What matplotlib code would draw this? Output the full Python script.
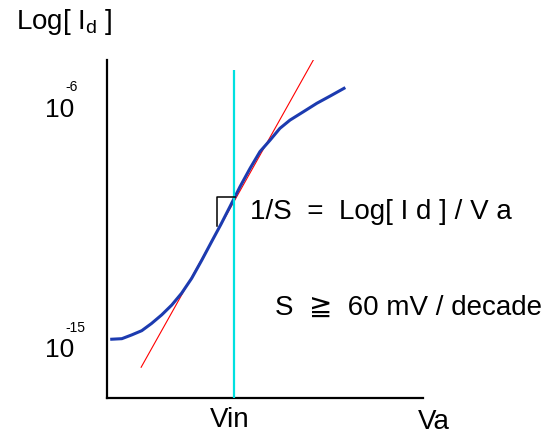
import matplotlib
matplotlib.use("Agg")
import matplotlib.pyplot as plt

plt.rcParams['font.family'] = ['Liberation Sans', 'DejaVu Sans']
plt.rcParams['mathtext.fontset'] = 'custom'
plt.rcParams['mathtext.rm'] = 'Liberation Sans'
plt.rcParams['mathtext.it'] = 'Liberation Sans:italic'

# Va (arbitrary units) and log10(Id)
va = [0.015, 0.047, 0.078, 0.110, 0.141, 0.173, 0.205, 0.236, 0.268, 0.300,
      0.331, 0.361, 0.389, 0.421, 0.453, 0.484, 0.516, 0.547, 0.579, 0.621,
      0.664, 0.706, 0.750]
log_id = [-14.69, -14.67, -14.53, -14.37, -14.10, -13.78, -13.41, -12.97,
          -12.41, -11.73, -11.04, -10.38, -9.73, -8.98, -8.29, -7.67, -7.24,
          -6.80, -6.49, -6.18, -5.86, -5.59, -5.30]

# tangent line (slope 1/S) through Vin
tan_x = [0.108, 0.653]
tan_y = [-15.74, -4.24]

vin = 0.403
vin_top = -4.62

# slope triangle corner
tri_x = [0.405, 0.348, 0.348]
tri_y = [-9.37, -9.37, -10.45]

ytick_vals = [-6, -15]
ytick_exp = ['-6', '-15']

fig = plt.figure(figsize=(5.5, 4.38), dpi=100)
ax = fig.add_axes([107 / 550, 40 / 438, 316 / 550, 338 / 438])
ax.set_xlim(0, 1)
ax.set_ylim(-16.89, -4.24)

ax.plot(tan_x, tan_y, color='red', lw=0.8, zorder=2)
ax.plot(va, log_id, color='#1c3bb0', lw=2.2, zorder=3)
ax.vlines(vin, -16.89, vin_top, color='#00e0e0', lw=1.6, zorder=4)
ax.plot(tri_x, tri_y, color='black', lw=1.1, zorder=5)

for s in ['top', 'right']:
    ax.spines[s].set_visible(False)
for s in ['left', 'bottom']:
    ax.spines[s].set_linewidth(1.6)
ax.set_xticks([])
ax.set_yticks(ytick_vals, ['10', '10'], fontsize=19)
ax.tick_params(axis='y', length=0, pad=44.6)
for lab in ax.get_yticklabels():
    lab.set_horizontalalignment('left')
for v, e in zip(ytick_vals, ytick_exp):
    ax.annotate(e, xy=(0, v), xycoords=('axes fraction', 'data'),
                xytext=(-42, 20), textcoords='offset pixels',
                fontsize=10, ha='left', va='center')

fig.text(16 / 550, 1 - 22 / 438, r'Log[ I$_{\mathrm{d}}$ ]', fontsize=20,
         va='center', ha='left')
fig.text(250 / 550, 1 - 212 / 438, '1/S  =  Log[ I d ] / V a', fontsize=20,
         va='center', ha='left')
fig.text(275 / 550, 1 - 308 / 438, 'S  \u2267  60 mV / decade', fontsize=20,
         va='center', ha='left')
fig.text(230 / 550, 1 - 420 / 438, 'Vin', fontsize=20, va='center', ha='center')
fig.text(418 / 550, 1 - 422 / 438, 'Va', fontsize=20, va='center', ha='left')

fig.savefig('out.png', dpi=100)
